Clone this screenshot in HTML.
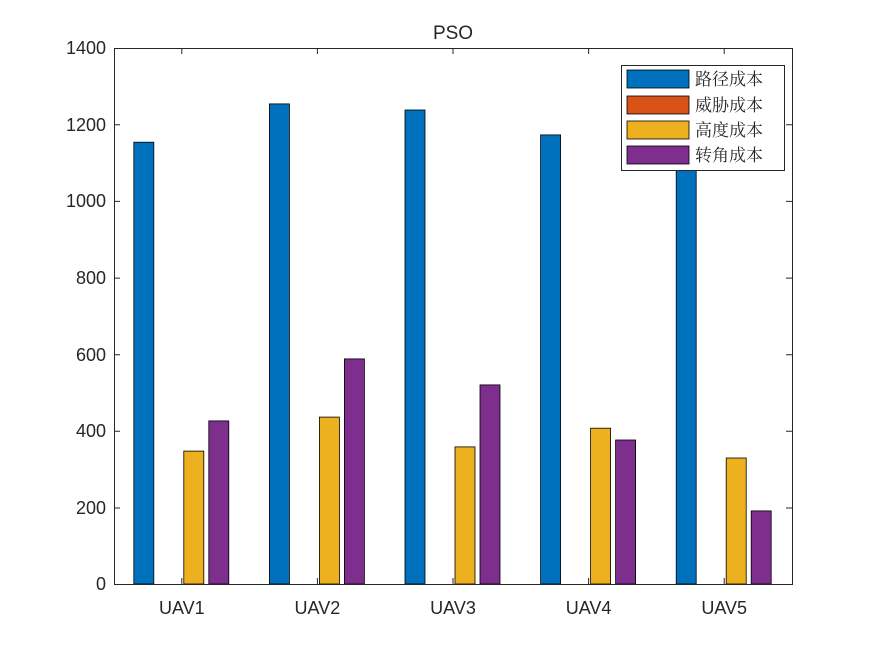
<!DOCTYPE html>
<html><head><meta charset="utf-8"><style>body{margin:0;background:#fff}svg{display:block}</style></head><body>
<svg width="875" height="656" xmlns="http://www.w3.org/2000/svg" font-family="Liberation Sans, sans-serif">
<rect width="875" height="656" fill="#fff"/>
<g stroke="#000" stroke-width="0.8">
<rect x="133.8" y="142.2" width="20" height="441.8" fill="#0072BD"/>
<rect x="183.8" y="451.1" width="20" height="132.9" fill="#EDB120"/>
<rect x="208.8" y="420.9" width="20" height="163.1" fill="#7E2F8E"/>
<rect x="269.4" y="103.9" width="20" height="480.1" fill="#0072BD"/>
<rect x="319.4" y="417.1" width="20" height="166.9" fill="#EDB120"/>
<rect x="344.4" y="358.9" width="20" height="225.1" fill="#7E2F8E"/>
<rect x="405" y="110" width="20" height="474" fill="#0072BD"/>
<rect x="455" y="446.9" width="20" height="137.1" fill="#EDB120"/>
<rect x="480" y="384.9" width="20" height="199.1" fill="#7E2F8E"/>
<rect x="540.6" y="134.9" width="20" height="449.1" fill="#0072BD"/>
<rect x="590.6" y="428.2" width="20" height="155.8" fill="#EDB120"/>
<rect x="615.6" y="440" width="20" height="144" fill="#7E2F8E"/>
<rect x="676.2" y="162.9" width="20" height="421.1" fill="#0072BD"/>
<rect x="726.2" y="458" width="20" height="126" fill="#EDB120"/>
<rect x="751.2" y="510.9" width="20" height="73.1" fill="#7E2F8E"/>
</g>
<g stroke="#262626" stroke-width="1" fill="none">
<rect x="114.5" y="48.5" width="678" height="536"/>
<path d="M114 508h6M114 431.3h6M114 354.7h6M114 278.1h6M114 201.4h6M114 124.8h6M792 508h-6M792 431.3h-6M792 354.7h-6M792 278.1h-6M792 201.4h-6M792 124.8h-6"/>
<path d="M181.8 584v-6M317.4 584v-6M453 584v-6M588.6 584v-6M724.2 584v-6M181.8 48v6M317.4 48v6M453 48v6M588.6 48v6M724.2 48v6"/>
</g>
<g font-size="18" fill="#262626" text-anchor="end">
<text x="106" y="590">0</text><text x="106" y="514">200</text><text x="106" y="437">400</text><text x="106" y="361">600</text><text x="106" y="284">800</text><text x="106" y="207">1000</text><text x="106" y="131">1200</text><text x="106" y="54">1400</text>
</g>
<g font-size="18" fill="#262626" text-anchor="middle">
<text x="181.8" y="614">UAV1</text><text x="317.4" y="614">UAV2</text><text x="453" y="614">UAV3</text><text x="588.6" y="614">UAV4</text><text x="724.2" y="614">UAV5</text>
<text x="453" y="39" font-size="19">PSO</text>
</g>
<rect x="621.5" y="65.5" width="163" height="105" fill="#fff" stroke="#262626"/>
<g stroke="#000" stroke-width="0.8">
<rect x="627" y="70" width="62" height="18" fill="#0072BD"/>
<rect x="627" y="96" width="62" height="18" fill="#D95319"/>
<rect x="627" y="121" width="62" height="18" fill="#EDB120"/>
<rect x="627" y="146" width="62" height="18" fill="#7E2F8E"/>
</g>
<g font-size="17" fill="#262626" font-family="Noto Serif CJK SC, serif">
<text x="695" y="85">路径成本</text><text x="695" y="111">威胁成本</text><text x="695" y="136">高度成本</text><text x="695" y="161">转角成本</text>
</g>
</svg>
</body></html>
